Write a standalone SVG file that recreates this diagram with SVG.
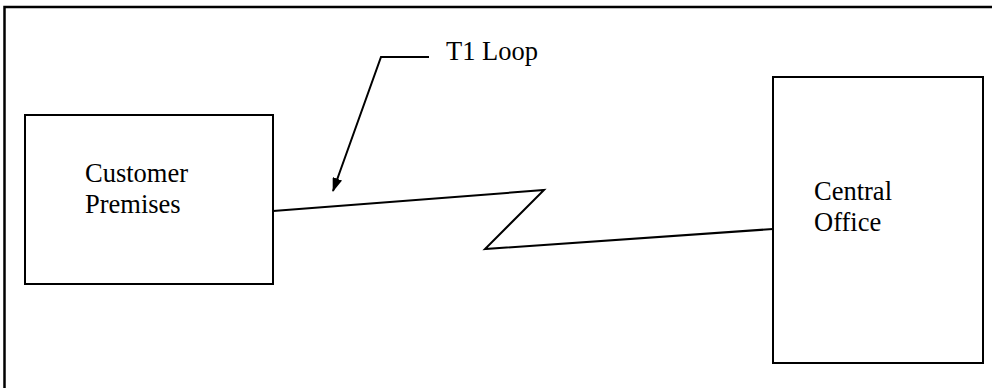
<svg xmlns="http://www.w3.org/2000/svg" width="992" height="388" viewBox="0 0 992 388">
<style>
.box{fill:#fff;stroke:#000;stroke-width:2}
.ln{fill:none;stroke:#000;stroke-width:2}
text{font-family:"Liberation Serif","Times New Roman",serif;font-size:26.5px;fill:#000}
</style>
<defs>
<marker id="ah" viewBox="0 0 14 10" refX="13" refY="5" markerWidth="14" markerHeight="10" orient="auto" markerUnits="userSpaceOnUse">
<path d="M0,0 L14,5 L0,10 z" fill="#000"/>
</marker>
</defs>
<rect x="0" y="0" width="992" height="388" fill="#fff"/>
<path d="M4.5,400 V7 H1000" fill="none" stroke="#000" stroke-width="2.5"/>
<g id="customer">
<rect class="box" x="25" y="115" width="248" height="169"/>
<text x="85" y="182">Customer</text>
<text x="85" y="213">Premises</text>
</g>
<g id="central">
<rect class="box" x="773" y="77" width="210" height="286"/>
<text x="814" y="200">Central</text>
<text x="814" y="231">Office</text>
</g>
<g id="label">
<text x="446" y="60">T1 Loop</text>
</g>
<g id="connectors">
<polyline class="ln" points="429,57 381,57 333,191" marker-end="url(#ah)"/>
<polyline class="ln" points="273,211 544,190 485,249 773,229"/>
</g>
</svg>
